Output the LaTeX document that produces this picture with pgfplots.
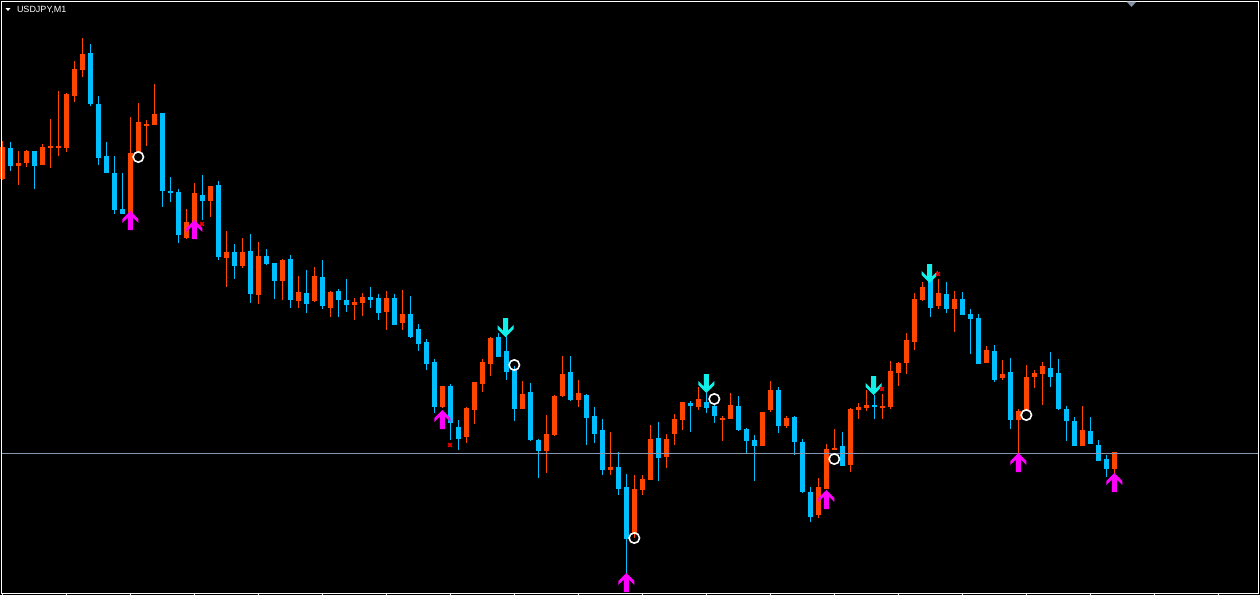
\documentclass[border=0pt]{standalone}
\usepackage{fontspec}
\setmainfont{Liberation Sans}
\usepackage{pgfplots}
\usepackage{pgfplotstable}
\pgfplotsset{compat=1.18}
\definecolor{cblue}{HTML}{00BFFF}
\definecolor{corange}{HTML}{FF4500}
\definecolor{hline}{HTML}{8497B0}
\definecolor{cmag}{HTML}{FF00FF}
\definecolor{ccyan}{HTML}{10F0E8}
\definecolor{cred}{HTML}{F00000}
\definecolor{tri}{HTML}{8090A0}

\pgfdeclareplotmark{uparr}{%
  \pgfpathmoveto{\pgfqpoint{0pt}{0pt}}%
  \pgfpathlineto{\pgfqpoint{8pt}{-8pt}}%
  \pgfpathlineto{\pgfqpoint{8pt}{-12pt}}%
  \pgfpathlineto{\pgfqpoint{2.5pt}{-6.5pt}}%
  \pgfpathlineto{\pgfqpoint{2.5pt}{-19pt}}%
  \pgfpathlineto{\pgfqpoint{-2.5pt}{-19pt}}%
  \pgfpathlineto{\pgfqpoint{-2.5pt}{-6.5pt}}%
  \pgfpathlineto{\pgfqpoint{-8pt}{-12pt}}%
  \pgfpathlineto{\pgfqpoint{-8pt}{-8pt}}%
  \pgfpathclose\pgfusepathqfill}
\pgfdeclareplotmark{dnarr}{%
  \pgfpathmoveto{\pgfqpoint{0pt}{0pt}}%
  \pgfpathlineto{\pgfqpoint{8pt}{8pt}}%
  \pgfpathlineto{\pgfqpoint{8pt}{12pt}}%
  \pgfpathlineto{\pgfqpoint{2.5pt}{6.5pt}}%
  \pgfpathlineto{\pgfqpoint{2.5pt}{19pt}}%
  \pgfpathlineto{\pgfqpoint{-2.5pt}{19pt}}%
  \pgfpathlineto{\pgfqpoint{-2.5pt}{6.5pt}}%
  \pgfpathlineto{\pgfqpoint{-8pt}{12pt}}%
  \pgfpathlineto{\pgfqpoint{-8pt}{8pt}}%
  \pgfpathclose\pgfusepathqfill}

% bullish (orange) candles: index, wick top, wick bottom, body top, body bottom (pixel rows)
\pgfplotstableread{
k wt wb bt bb
0 141 180 146.7 179
2 151 185 163 165.7
3 150 166.7 151 162.7
5 144 165 147 165
6 119 167.7 145.7 147.7
7 91 155.7 145.7 147.7
8 93 151.7 94 147.7
9 61 101.7 69 95.7
10 38 76.7 54 69.7
16 117 213.7 153 213.7
17 103 153 122 153
18 120 145.7 124 126
19 84 125 114 125
23 209 239 222 238
24 183 238 193 238
26 186 217 186 201
28 231 287 252 258
30 238 268 252 266
32 242 304 256 295
35 259 300 260 281
37 276 308 292 301
39 267 302 276 301
41 291 317 292 308
44 298 320 302 305
45 293 316 297 303
48 291 330 298 312
50 290 330 314 323
55 386 408 386 407
58 407 443 408 437
59 382 424 382 410
60 359 392 362 384
61 337 376 338 364
65 381 409 394 409
68 415 473 434 451
69 395 436 396 435
70 356 397 374 396
72 380 407 393 400
76 432 475 467 470
79 475 538 489 534
80 475 495 479 490
81 425 480 439 480
83 434 468 439 457
84 414 445 419 434
85 402 430 402 420
87 387 410 399 407
90 416 441 418 420
91 393 419 405 419
95 412 446 412 446
96 381 412 390 410
98 416 428 418 426
102 478 518 487 515
103 444 489 449 489
104 429 450 448 450
106 408 472 409 465
107 403 419 407 410
108 390 411 405 408
110 394 419 406 408
111 361 409 371 407
112 362 386 363 373
113 333 374 340 363
114 293 350 299 342
115 282 301 287 300
117 279 309 293 306
119 291 332 299 309
123 346 363 350 363
125 360 380 374 378
127 409 453 411 420
128 365 411 377 411
129 370 388 373 377
130 362 405 366 374
135 406 446 430 446
139 452 474 452 469
}\bulltab

% bearish (blue) candles
\pgfplotstableread{
k wt wb bt bb
1 142 170.7 148 166
4 151 189 151 165.7
11 44 105.7 53 103.7
12 96 164.7 104 157.7
13 142 172.7 156 172.7
14 156 213.7 173 209.7
15 173 213.7 209 213.7
20 113 207 113 191
21 177 202 191 193
22 189 243 192 235
25 175 220 195 201
27 181 260 185 257
29 244 279 252 266
31 234 303 251 294
33 249 265 256 264
34 263 299 263 281
36 255 308 259 300
38 270 313 293 304
40 260 309 277 306
42 289 317 291 300
43 279 312 300 305
46 287 308 297 300
47 294 320 298 313
49 294 325 298 325
51 296 338 314 337
52 324 351 329 344
53 339 370 342 364
54 359 413 362 407
56 384 440 386 423
57 420 450 427 439
62 333 357 337 357
63 333 380 351 372
64 366 421 370 409
66 383 441 392 440
67 439 478 440 451
71 356 401 372 400
73 394 445 395 418
74 407 443 416 434
75 419 475 430 470
77 452 495 467 489
78 474 573 487 539
82 422 481 438 458
86 401 432 403 406
88 393 413 402 408
89 405 423 406 416
92 396 431 406 430
93 428 453 429 441
94 435 481 440 446
97 387 433 390 426
99 416 455 417 442
100 439 493 442 492
101 487 522 492 517
105 432 466 446 466
109 395 419 405 407
116 278 317 278 308
118 282 313 294 309
120 292 315 299 315
121 309 354 314 319
122 314 364 318 364
124 345 382 351 380
126 358 429 372 420
131 352 387 368 377
132 359 410 373 409
133 406 441 409 421
134 417 446 421 446
136 417 444 431 444
137 440 461 445 461
138 455 477 459 469
}\beartab

\pgfplotstableread{
x y
2.5 594.5
66.5 594.5
130.5 594.5
194.5 594.5
258.5 594.5
322.5 594.5
386.5 594.5
450.5 594.5
514.5 594.5
578.5 594.5
642.5 594.5
706.5 594.5
770.5 594.5
834.5 594.5
898.5 594.5
962.5 594.5
1026.5 594.5
1090.5 594.5
1154.5 594.5
1218.5 594.5
}\tickstab

\pgfplotsset{candle/.style={only marks, mark size=0pt, mark options={draw=none, fill=none}, forget plot,
  error bars/.cd, y dir=both, y explicit, error mark=none}}

\begin{document}
\begin{tikzpicture}
\begin{axis}[
  width=1260pt, height=595pt, scale only axis,
  xmin=0, xmax=1260, ymin=0, ymax=595, y dir=reverse,
  axis line style={draw=none}, ticks=none,
  axis background/.style={fill=black},
]
% wicks
\addplot[candle, error bar style={draw=corange, line width=1pt}]
  table[x expr={2.3+8*\thisrow{k}}, y expr={(\thisrow{wt}+\thisrow{wb})/2},
        y error expr={(\thisrow{wb}-\thisrow{wt})/2}] {\bulltab};
\addplot[candle, error bar style={draw=cblue, line width=1pt}]
  table[x expr={2.3+8*\thisrow{k}}, y expr={(\thisrow{wt}+\thisrow{wb})/2},
        y error expr={(\thisrow{wb}-\thisrow{wt})/2}] {\beartab};
% bodies
\addplot[candle, error bar style={draw=corange, line width=5pt}]
  table[x expr={2.3+8*\thisrow{k}}, y expr={(\thisrow{bt}+\thisrow{bb})/2},
        y error expr={(\thisrow{bb}-\thisrow{bt})/2}] {\bulltab};
\addplot[candle, error bar style={draw=cblue, line width=5pt}]
  table[x expr={2.3+8*\thisrow{k}}, y expr={(\thisrow{bt}+\thisrow{bb})/2},
        y error expr={(\thisrow{bb}-\thisrow{bt})/2}] {\beartab};

% horizontal price line
\addplot[hline, line width=1pt, forget plot] coordinates {(1,453.5) (1258,453.5)};

% frame and bottom ticks
\addplot[white, line width=1pt, forget plot] coordinates {(1,1) (1258.5,1) (1258.5,593.5) (1,593.5) (1,1)};
\addplot[candle, error bar style={draw=white, line width=1pt}]
  table[x=x, y=y, y error expr=1.5] {\tickstab};

% signals
\addplot[only marks, mark=uparr, color=cmag, forget plot] coordinates {
(130.3,211) (194.3,220) (442.3,410) (626.3,573) (826.3,490) (1018.3,453) (1114.3,473)};
\addplot[only marks, mark=dnarr, color=ccyan, forget plot] coordinates {
(505.5,337) (706.3,393) (873.5,395) (929.5,283)};
\addplot[only marks, mark=o, mark size=5.2pt, color=white, line width=1.6pt, forget plot] coordinates {
(138.3,157) (514.3,365) (634.3,538) (714.3,399) (834.3,459) (1026.3,415)};
\addplot[only marks, mark=x, mark size=2.6pt, color=cred, line width=1.5pt, forget plot] coordinates {
(202,224) (450,445) (882,389) (938,274)};

% small triangles
\addplot[fill=white, draw=none, forget plot] coordinates {(5.5,8) (10.5,8) (8,11) (5.5,8)};
\addplot[fill=tri, draw=none, forget plot] coordinates {(1126.5,1.5) (1136.5,1.5) (1131.5,7) (1126.5,1.5)};

\node[anchor=base west, text=white, inner sep=0pt, font=\fontsize{9}{10}\selectfont] at (axis cs:16.8,12.3) {USDJPY,M1};
\end{axis}
\end{tikzpicture}
\end{document}
